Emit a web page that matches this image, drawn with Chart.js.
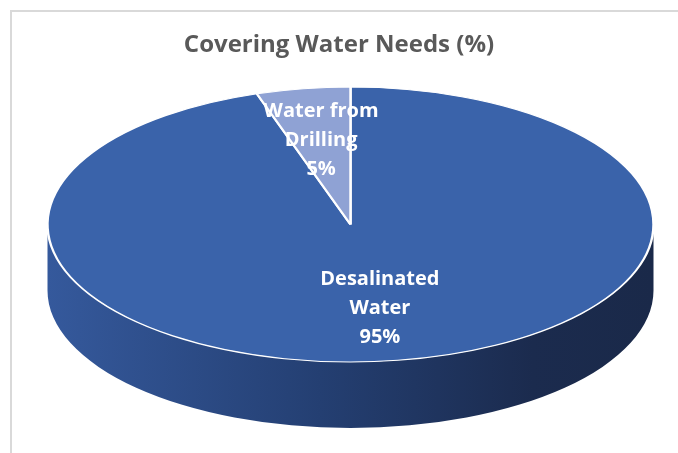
<!DOCTYPE html>
<html>
<head>
<meta charset="utf-8">
<script src="https://cdn.jsdelivr.net/npm/chart.js@4.4.0/dist/chart.umd.min.js"></script>
<style>
  html, body { margin: 0; padding: 0; background: #fff; }
  canvas { display: block; }
</style>
</head>
<body>
<canvas id="waterPie" width="678" height="453"></canvas>
<script>
// values
var CATEGORIES = ['Desalinated Water', 'Water from Drilling'];
var SHARES = [95, 5];
var LABEL_LINES = [['Desalinated', 'Water'], ['Water from', 'Drilling']];
var TITLE = 'Covering Water Needs (%)';

var SLICE_COLORS = ['#3a63aa', '#8fa2d4'];

// the flat pie gets squashed into this ellipse, with a wall below it
var TILT = { cx: 350.5, cy: 224.5, rx: 303, ry: 137.5, depth: 66 };
var LABEL_RADIUS = 0.62;

function frontSpan(a0, a1) {
  // part of [a0, a1] that faces the viewer (0..PI on canvas)
  var spans = [];
  for (var k = -2; k <= 2; k += 2) {
    var lo = Math.max(a0, k * Math.PI);
    var hi = Math.min(a1, k * Math.PI + Math.PI);
    if (hi > lo) spans.push([lo, hi]);
  }
  return spans;
}

var tiltPlugin = {
  id: 'tilt',
  beforeDraw: function(chart) {
    var ctx = chart.ctx;
    ctx.save();
    ctx.fillStyle = '#d9d9d9';
    ctx.fillRect(10, 10, 668, 2);
    ctx.fillRect(10, 10, 2, 443);
    ctx.restore();
  },
  beforeDatasetsDraw: function(chart) {
    var ctx = chart.ctx;
    var arcs = chart.getDatasetMeta(0).data;

    var grad = ctx.createLinearGradient(TILT.cx - TILT.rx, 0, TILT.cx + TILT.rx, 0);
    grad.addColorStop(0, '#35599c');
    grad.addColorStop(0.45, '#243f72');
    grad.addColorStop(0.8, '#1b2b4e');
    grad.addColorStop(1, '#1a2949');

    ctx.save();
    ctx.fillStyle = grad;
    arcs.forEach(function(arc) {
      frontSpan(arc.startAngle, arc.endAngle).forEach(function(s) {
        ctx.beginPath();
        ctx.ellipse(TILT.cx, TILT.cy, TILT.rx, TILT.ry, 0, s[0], s[1]);
        ctx.ellipse(TILT.cx, TILT.cy + TILT.depth, TILT.rx, TILT.ry, 0, s[1], s[0], true);
        ctx.closePath();
        ctx.fill();
      });
    });
    ctx.restore();

    var a = arcs[0];
    ctx.save();
    ctx.translate(TILT.cx, TILT.cy);
    ctx.scale(TILT.rx / a.outerRadius, TILT.ry / a.outerRadius);
    ctx.translate(-a.x, -a.y);
  },
  afterDatasetsDraw: function(chart) {
    var ctx = chart.ctx;
    ctx.restore();

    var arcs = chart.getDatasetMeta(0).data;
    ctx.save();
    ctx.font = 'bold 20px "Open Sans", sans-serif';
    ctx.fillStyle = '#ffffff';
    ctx.textAlign = 'center';
    ctx.textBaseline = 'middle';
    var lh = 29;
    arcs.forEach(function(arc, i) {
      var mid = (arc.startAngle + arc.endAngle) / 2;
      var px = TILT.cx + TILT.rx * LABEL_RADIUS * Math.cos(mid);
      var py = TILT.cy + TILT.ry * LABEL_RADIUS * Math.sin(mid);
      var lines = LABEL_LINES[i].concat([SHARES[i] + '%']);
      var y0 = py - (lines.length - 1) / 2 * lh;
      for (var j = 0; j < lines.length; j++) {
        ctx.fillText(lines[j], px, y0 + j * lh);
      }
    });
    ctx.restore();
  }
};

new Chart(document.getElementById('waterPie'), {
  type: 'pie',
  data: {
    labels: CATEGORIES,
    datasets: [{
      data: SHARES,
      backgroundColor: SLICE_COLORS,
      borderColor: '#ffffff',
      borderWidth: 1.5,
      clip: false
    }]
  },
  options: {
    responsive: false,
    animation: false,
    events: [],
    layout: { padding: { left: 20, right: 20, bottom: 10 } },
    plugins: {
      legend: { display: false },
      tooltip: { enabled: false },
      title: {
        display: true,
        text: TITLE,
        color: '#595959',
        font: { family: '"Open Sans", sans-serif', size: 24, weight: 'bold', lineHeight: 1.2 },
        padding: { top: 31, bottom: 10 }
      }
    }
  },
  plugins: [tiltPlugin]
});
</script>
</body>
</html>
